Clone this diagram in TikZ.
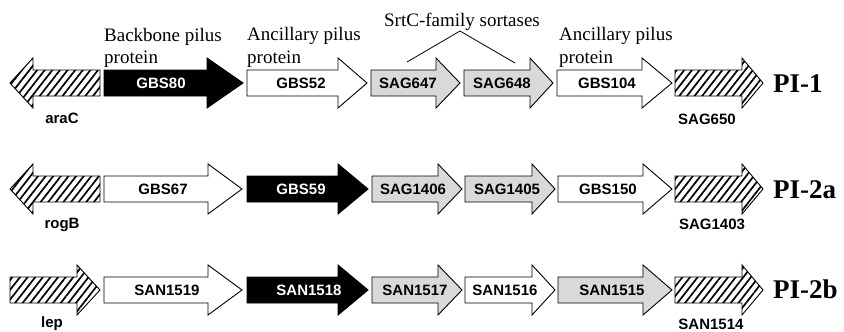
\documentclass[tikz,border=0pt]{standalone}
\usepackage{fontspec}
\setmainfont{Liberation Serif}
\newfontfamily\genesans{Liberation Sans}
\usetikzlibrary{patterns.meta}
\tikzset{
  genebox/.style={draw=black, line width=0.9pt, line join=miter},
  gwhite/.style={genebox, fill=white},
  gblack/.style={genebox, fill=black},
  ggray/.style={genebox, fill=black!15},
  ghatch/.style={genebox, pattern={Lines[angle=52,distance=6pt,line width=1.7pt]}},
  glabel/.style={font=\genesans\bfseries\fontsize{15}{15}\selectfont, inner sep=0pt},
  gwlabel/.style={glabel, text=white},
  anno/.style={font=\fontsize{19}{19}\selectfont, inner sep=0pt},
  pilabel/.style={font=\bfseries\fontsize{27}{27}\selectfont, inner sep=0pt},
  forkline/.style={draw=black, line width=0.8pt}
}
% #1 style, #2 tail x, #3 head base x, #4 tip x, #5 centre y
\newcommand\genearrow[5]{\draw[#1] (#2,{#5-13}) -- (#3,{#5-13}) -- (#3,{#5-25}) -- (#4,#5) -- (#3,{#5+25}) -- (#3,{#5+13}) -- (#2,{#5+13}) -- cycle;}
\begin{document}
\begin{tikzpicture}[x=1pt,y=-1pt]
\useasboundingbox (0,0) rectangle (844,332);

% ---------------- Row 1 : PI-1 ----------------
\genearrow{ghatch}{100}{33}{10}{83}
\genearrow{gblack}{104}{207}{243}{83}
\genearrow{gwhite}{247}{338}{367}{83}
\genearrow{ggray}{371}{436}{460}{83}
\genearrow{ggray}{464}{530}{553}{83}
\genearrow{gwhite}{557}{642}{672}{83}
\genearrow{ghatch}{675}{742}{763}{83}

\node[gwlabel] (gbs80) at (161,83) {GBS80};
\node[glabel] (gbs52) at (301,83) {GBS52};
\node[glabel] (sag647) at (408,83) {SAG647};
\node[glabel] (sag648) at (502,83) {SAG648};
\node[glabel] (gbs104) at (607,83) {GBS104};
\node[glabel, anchor=base] (arac) at (62,123) {araC};
\node[glabel, anchor=base] (sag650) at (707,124) {SAG650};
\node[pilabel, anchor=base west] (pi1) at (773,92) {PI-1};

\node[anno, anchor=base west] (bb1) at (104,41) {Backbone pilus};
\node[anno, anchor=base west] (bb2) at (104,63) {protein};
\node[anno, anchor=base west] (an1) at (247,40) {Ancillary pilus};
\node[anno, anchor=base west] (an2) at (247,63) {protein};
\node[anno, anchor=base west] (an3) at (559,40) {Ancillary pilus};
\node[anno, anchor=base west] (an4) at (559,63) {protein};
\node[anno, anchor=base] (srtc) at (462,27) {SrtC-family sortases};
\coordinate (fork) at (460,31);
\coordinate (fork647) at (407,62);
\coordinate (fork648) at (515,63);
\draw[forkline] (fork647) -- (fork) -- (fork648);

% ---------------- Row 2 : PI-2a ----------------
\genearrow{ghatch}{100}{33}{10}{189}
\genearrow{gwhite}{104}{208}{242}{189}
\genearrow{gblack}{247}{338}{368}{189}
\genearrow{ggray}{372}{438}{462}{189}
\genearrow{ggray}{465}{532}{555}{189}
\genearrow{gwhite}{558}{643}{672}{189}
\genearrow{ghatch}{675}{742}{763}{189}

\node[glabel] (gbs67) at (163,189) {GBS67};
\node[gwlabel] (gbs59) at (301,189) {GBS59};
\node[glabel] (sag1406) at (413,189) {SAG1406};
\node[glabel] (sag1405) at (507,189) {SAG1405};
\node[glabel] (gbs150) at (608,189) {GBS150};
\node[glabel, anchor=base] (rogb) at (62,228) {rogB};
\node[glabel, anchor=base] (sag1403) at (712,229) {SAG1403};
\node[pilabel, anchor=base west] (pi2a) at (773,198) {PI-2a};

% ---------------- Row 3 : PI-2b ----------------
\genearrow{ghatch}{10}{77}{100}{290}
\genearrow{gwhite}{104}{208}{242}{290}
\genearrow{gblack}{247}{338}{368}{290}
\genearrow{ggray}{372}{438}{462}{290}
\genearrow{gwhite}{465}{532}{555}{290}
\genearrow{ggray}{558}{643}{672}{290}
\genearrow{ghatch}{675}{742}{763}{290}

\node[glabel] (san1519) at (167,290) {SAN1519};
\node[gwlabel] (san1518) at (309,290) {SAN1518};
\node[glabel] (san1517) at (415,290) {SAN1517};
\node[glabel] (san1516) at (505,290) {SAN1516};
\node[glabel] (san1515) at (612,290) {SAN1515};
\node[glabel, anchor=base] (lep) at (52,327) {lep};
\node[glabel, anchor=base] (san1514) at (711,329) {SAN1514};
\node[pilabel, anchor=base west] (pi2b) at (773,298) {PI-2b};
\end{tikzpicture}
\end{document}
